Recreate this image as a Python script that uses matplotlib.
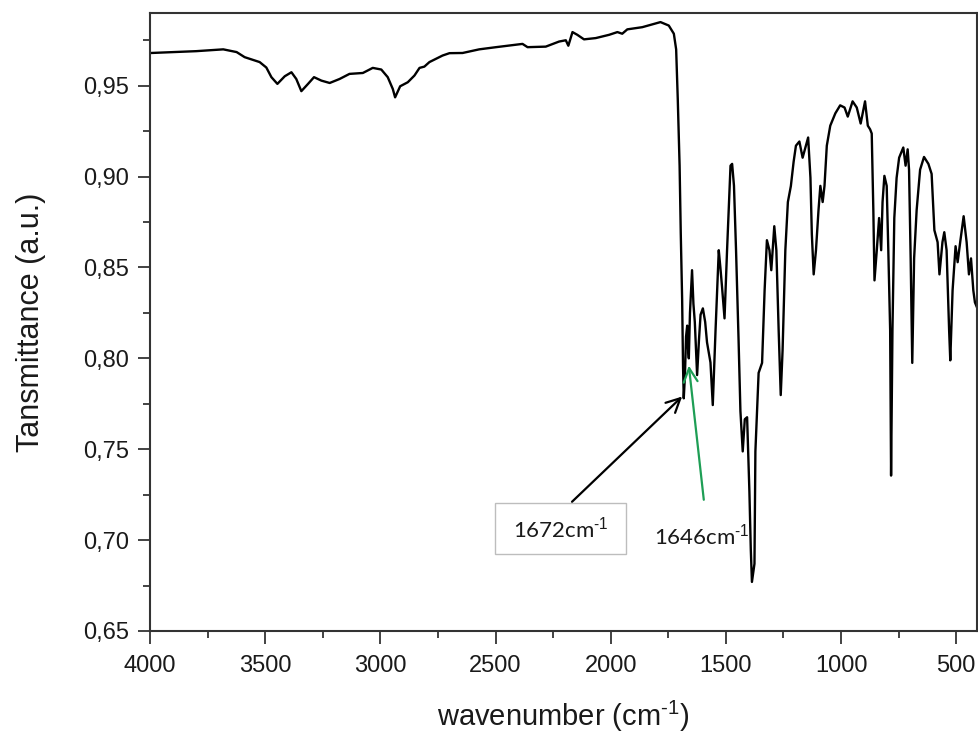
import matplotlib
matplotlib.use("Agg")
import matplotlib.pyplot as plt
from matplotlib.ticker import MultipleLocator, FuncFormatter
from matplotlib.patches import Rectangle

wavenumber = [3995, 3900, 3800, 3682, 3624, 3589, 3524, 3495, 3473, 3447, 3415, 3386,
              3365, 3343, 3314, 3288, 3256, 3220, 3177, 3134, 3076, 3033, 2996, 2968,
              2946, 2936, 2914, 2881, 2852, 2830, 2809, 2787, 2730, 2700, 2643, 2571,
              2498, 2383, 2361, 2282, 2224, 2195, 2184, 2166, 2145, 2116, 2065, 2007,
              1971, 1950, 1928, 1863, 1784, 1748, 1726, 1716, 1709, 1701, 1696, 1690,
              1686, 1683, 1678, 1673, 1668, 1664, 1661, 1656, 1647, 1641, 1635, 1625,
              1617, 1610, 1600, 1590, 1582, 1567, 1557, 1545, 1531, 1524, 1517, 1506,
              1495, 1480, 1473, 1465, 1456, 1445, 1437, 1427, 1418, 1408, 1398, 1392,
              1387, 1376, 1372, 1358, 1343, 1332, 1322, 1311, 1303, 1290, 1281, 1271,
              1262, 1254, 1242, 1231, 1218, 1206, 1196, 1181, 1167, 1155, 1143, 1133,
              1127, 1119, 1109, 1098, 1090, 1080, 1072, 1062, 1047, 1025, 1004, 985,
              971, 950, 932, 915, 896, 884, 874, 867, 860, 855, 845, 835, 826, 820, 812,
              802, 795, 787, 783, 777, 769, 759, 748, 730, 720, 711, 705, 698, 691, 683,
              672, 657, 640, 621, 607, 595, 581, 573, 560, 552, 542, 531, 526, 516, 503,
              494, 483, 468, 455, 445, 436, 426, 419, 410]
transmittance = [0.968, 0.9685, 0.969, 0.970, 0.9685, 0.9657, 0.963, 0.960, 0.9547, 0.951,
                 0.9552, 0.9574, 0.9537, 0.947, 0.951, 0.9547, 0.9528, 0.9515, 0.9537,
                 0.9565, 0.957, 0.9598, 0.9589, 0.9547, 0.9482, 0.9436, 0.9497, 0.9519,
                 0.9556, 0.9598, 0.9605, 0.963, 0.9666, 0.9679, 0.968, 0.970, 0.9712,
                 0.973, 0.9712, 0.9715, 0.9743, 0.975, 0.972, 0.9795, 0.978, 0.9755,
                 0.9762, 0.978, 0.9795, 0.9786, 0.981, 0.9822, 0.985, 0.9831, 0.9786,
                 0.970, 0.9427, 0.906, 0.869, 0.8325, 0.795, 0.778, 0.790, 0.812, 0.818,
                 0.805, 0.800, 0.825, 0.8485, 0.830, 0.820, 0.7908, 0.810, 0.824, 0.8275,
                 0.820, 0.8088, 0.7977, 0.7743, 0.8154, 0.8595, 0.850, 0.8396, 0.822,
                 0.8595, 0.906, 0.907, 0.895, 0.8595, 0.810, 0.771, 0.7488, 0.7665,
                 0.7676, 0.7266, 0.695, 0.677, 0.687, 0.7488, 0.792, 0.7975, 0.8374,
                 0.865, 0.8595, 0.8485, 0.8727, 0.8595, 0.8154, 0.7798, 0.8043, 0.8595,
                 0.886, 0.8948, 0.9082, 0.917, 0.9193, 0.9104, 0.916, 0.9215, 0.8993,
                 0.8684, 0.8462, 0.8595, 0.8816, 0.8949, 0.886, 0.8949, 0.917, 0.928,
                 0.9348, 0.9392, 0.938, 0.933, 0.9414, 0.938, 0.9292, 0.9414, 0.928,
                 0.926, 0.9237, 0.8816, 0.8429, 0.8595, 0.8772, 0.8595, 0.886, 0.9004,
                 0.8949, 0.8595, 0.8154, 0.7355, 0.8154, 0.8772, 0.8993, 0.9104, 0.916,
                 0.906, 0.915, 0.9038, 0.855, 0.7975, 0.855, 0.8816, 0.9038, 0.9108,
                 0.907, 0.9015, 0.8705, 0.8639, 0.8462, 0.8639, 0.8694, 0.8595, 0.8154,
                 0.7989, 0.8374, 0.8617, 0.8529, 0.8639, 0.8782, 0.8639, 0.8462, 0.855,
                 0.8374, 0.8308, 0.828]

x_ticks = [4000, 3500, 3000, 2500, 2000, 1500, 1000, 500]
y_ticks = [0.65, 0.70, 0.75, 0.80, 0.85, 0.90, 0.95]

plt.rcParams['font.family'] = ['Liberation Sans', 'DejaVu Sans']
plt.rcParams['mathtext.fontset'] = 'custom'
plt.rcParams['mathtext.rm'] = 'Liberation Sans'
plt.rcParams['mathtext.it'] = 'Liberation Sans'
plt.rcParams['mathtext.bf'] = 'Liberation Sans'

TXT = '#1a1a1a'

fig = plt.figure(figsize=(9.79, 7.37), dpi=100)
ax = fig.add_axes([150/979, 1 - 631/737, (977 - 150)/979, (631 - 13)/737])

ax.plot(wavenumber, transmittance, color='black', linewidth=1.7)

ax.set_xlim(4000, 410)
ax.set_ylim(0.65, 0.99)
ax.set_xticks(x_ticks)
ax.set_yticks(y_ticks)
ax.xaxis.set_minor_locator(MultipleLocator(250))
ax.yaxis.set_minor_locator(MultipleLocator(0.025))
ax.yaxis.set_major_formatter(FuncFormatter(lambda v, p: f"{v:.2f}".replace('.', ',')))
ax.tick_params(axis='both', which='major', direction='out', length=9, width=1.2,
               labelsize=17, colors='#222222', labelcolor=TXT)
ax.tick_params(axis='y', which='major', pad=6)
ax.tick_params(axis='x', which='major', pad=8)
ax.tick_params(axis='both', which='minor', direction='out', length=5, width=1.2,
               colors='#222222')
for s in ax.spines.values():
    s.set_linewidth(1.5)
    s.set_color('#333333')

ax.set_xlabel('wavenumber (cm$^{\\text{-}1}$)', fontsize=21, labelpad=16, color=TXT)
ax.set_ylabel('Tansmittance (a.u.)', fontsize=22, labelpad=27, color=TXT)

# annotation: 1672 cm-1 with box
ax.add_patch(Rectangle((1932, 0.6924), 2503 - 1932, 0.7206 - 0.6924, fill=False,
                       edgecolor='#bdbdbd', linewidth=1.0))
ax.text(2218, 0.7062, '1672cm$^{\\text{-}1}$', fontsize=16, ha='center', va='center',
        color=TXT, family=['Lato', 'DejaVu Sans'])
ax.annotate('', xy=(1690, 0.779), xytext=(2168, 0.7211),
            arrowprops=dict(arrowstyle='->', color='black', lw=1.6,
                            mutation_scale=25, shrinkA=0, shrinkB=0))

# annotation: 1646 cm-1
ax.text(1605, 0.7025, '1646cm$^{\\text{-}1}$', fontsize=16, ha='center', va='center',
        color=TXT, family=['Lato', 'DejaVu Sans'])
ax.annotate('', xy=(1661, 0.796), xytext=(1596, 0.7222),
            arrowprops=dict(arrowstyle='->', color='#1e9e55', lw=1.6,
                            mutation_scale=25, shrinkA=0, shrinkB=0))

fig.savefig('out.png', dpi=100)
